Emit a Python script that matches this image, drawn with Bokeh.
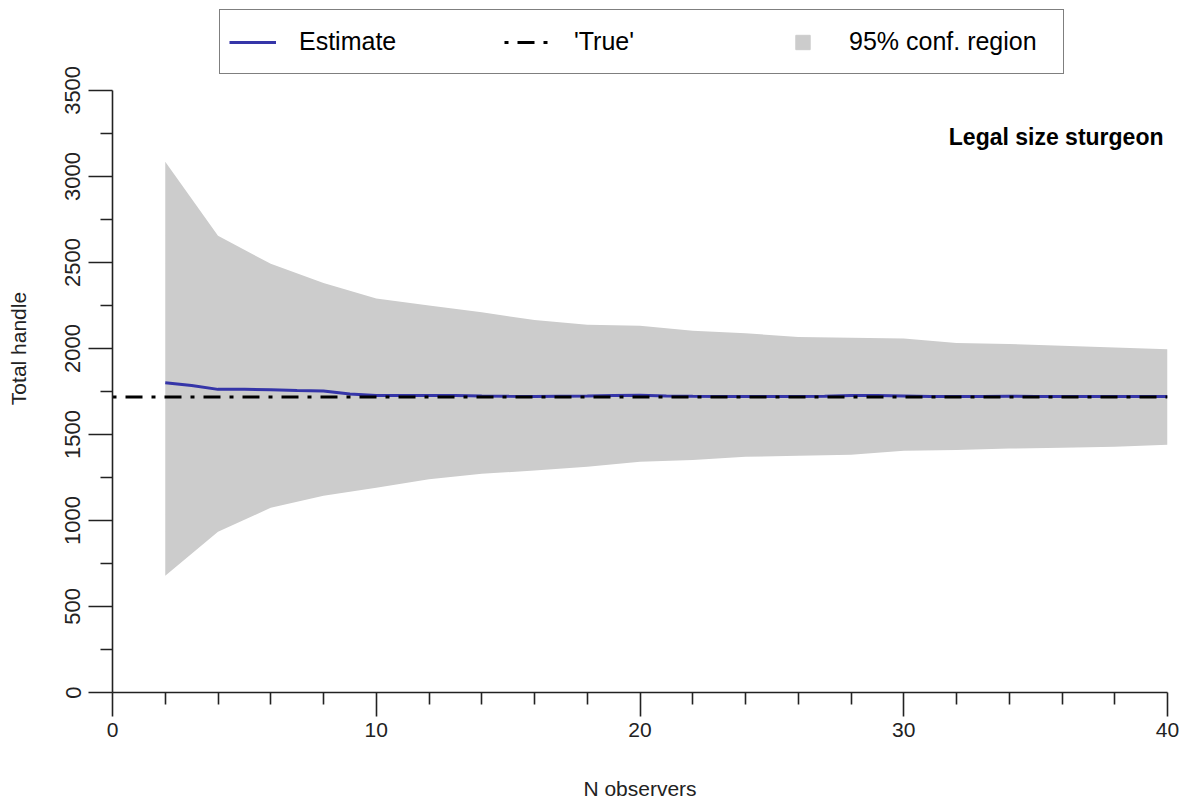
import math
from bokeh.plotting import figure
from bokeh.models import FixedTicker, Range1d, Legend, LegendItem, Label
from bokeh.embed import file_html
from bokeh.resources import INLINE

# ---- data ----
n_band = [2, 4, 6, 8, 10, 12, 14, 16, 18, 20, 22, 24, 26, 28, 30, 32, 34, 36, 38, 40]
upper = [3085, 2655, 2492, 2380, 2290, 2250, 2210, 2165, 2138, 2132,
         2103, 2088, 2066, 2062, 2058, 2032, 2026, 2016, 2006, 1995]
lower = [679, 934, 1074, 1143, 1190, 1240, 1271, 1290, 1312, 1341,
         1352, 1370, 1376, 1382, 1405, 1410, 1418, 1422, 1428, 1440]

n_est = list(range(2, 41))
estimate = [1800, 1785, 1762, 1762, 1760, 1755, 1752, 1735, 1726, 1726,
            1727, 1727, 1724, 1722, 1721, 1722, 1723, 1727, 1728, 1724,
            1722, 1721, 1720, 1720, 1721, 1722, 1726, 1727, 1724, 1721,
            1720, 1721, 1722, 1720, 1721, 1720, 1721, 1720, 1720]

true_value = 1718
x_limits = [0, 40]
y_limits = [0, 3500]
x_major = [0, 10, 20, 30, 40]
x_minor = [2, 4, 6, 8, 12, 14, 16, 18, 22, 24, 26, 28, 32, 34, 36, 38]
y_major = [0, 500, 1000, 1500, 2000, 2500, 3000, 3500]
y_minor = [250, 750, 1250, 1750, 2250, 2750, 3250]

FONT = "Liberation Sans"
AXIS_COL = "#222222"
BAND_COL = "#cccccc"

# layout (pixels)
W, H = 1184, 802
LEFT, RIGHT, TOP, BOTTOM = 112, 17, 4, 109
AXIS_TOP_PX = 90            # where the y axis (value 3500) ends
frame_h = H - TOP - BOTTOM
axis_h = H - BOTTOM - AXIS_TOP_PX
y_end = y_limits[1] * frame_h / axis_h   # extra headroom holds the legend

p = figure(width=W, height=H,
           x_range=Range1d(*x_limits), y_range=Range1d(y_limits[0], y_end),
           output_backend="svg", toolbar_location=None,
           min_border_left=LEFT, min_border_right=RIGHT,
           min_border_top=TOP, min_border_bottom=BOTTOM,
           x_axis_label="N observers", y_axis_label="Total handle")
p.outline_line_color = None
p.grid.visible = False
p.background_fill_color = "white"
p.border_fill_color = "white"

band = p.varea(x=n_band, y1=lower, y2=upper, fill_color=BAND_COL, fill_alpha=1.0)
est = p.line(n_est, estimate, line_color="#3535a8", line_width=3)
tru = p.line(x_limits, [true_value, true_value], line_color="black",
             line_width=3, line_dash="4 9 17 9")
# legend-only swatch (its point lies outside the visible x range)
sq = p.scatter(x=[x_limits[0] - 10], y=[true_value], marker="square",
               fill_color=BAND_COL, line_color=BAND_COL)

for ax, maj, mnr in ((p.xaxis[0], x_major, x_minor), (p.yaxis[0], y_major, y_minor)):
    ax.ticker = FixedTicker(ticks=maj, minor_ticks=mnr)
    ax.axis_line_color = AXIS_COL
    ax.axis_line_width = 1.6
    ax.major_tick_line_color = AXIS_COL
    ax.major_tick_line_width = 1.6
    ax.minor_tick_line_color = AXIS_COL
    ax.minor_tick_line_width = 1.6
    ax.major_tick_in = 0
    ax.major_tick_out = 24
    ax.minor_tick_in = 0
    ax.minor_tick_out = 12
    ax.major_label_text_font = FONT
    ax.major_label_text_font_size = "21px"
    ax.major_label_text_color = AXIS_COL
    ax.axis_label_text_font = FONT
    ax.axis_label_text_font_size = "21px"
    ax.axis_label_text_font_style = "normal"
    ax.axis_label_text_color = AXIS_COL

p.yaxis[0].bounds = (y_limits[0], y_limits[1])
p.yaxis[0].major_label_text_font_size = "22px"
p.yaxis[0].major_label_orientation = "parallel"
p.yaxis[0].major_label_standoff = 8
p.yaxis[0].axis_label_standoff = 33
p.xaxis[0].major_label_standoff = 6
p.xaxis[0].axis_label_standoff = 37

legend = Legend(
    items=[LegendItem(label="Estimate", renderers=[est]),
           LegendItem(label="'True'", renderers=[tru]),
           LegendItem(label="95% conf. region", renderers=[sq])],
    orientation="horizontal", location=(107, 618),
    glyph_width=47, glyph_height=36, label_height=45,
    label_standoff=23, label_width=205, spacing=0,
    padding=9, margin=0,
    border_line_color="black", border_line_width=1.6,
    background_fill_color="white", background_fill_alpha=1.0,
    label_text_font=FONT, label_text_font_size="25px",
    label_text_color="black",
)
p.add_layout(legend)

p.add_layout(Label(x=40, y=3230, x_offset=-4, text="Legal size sturgeon",
                   text_align="right", text_baseline="middle",
                   text_font=FONT, text_font_style="bold",
                   text_font_size="23px", text_color="black"))

open("out.html", "w").write(file_html(p, INLINE))
